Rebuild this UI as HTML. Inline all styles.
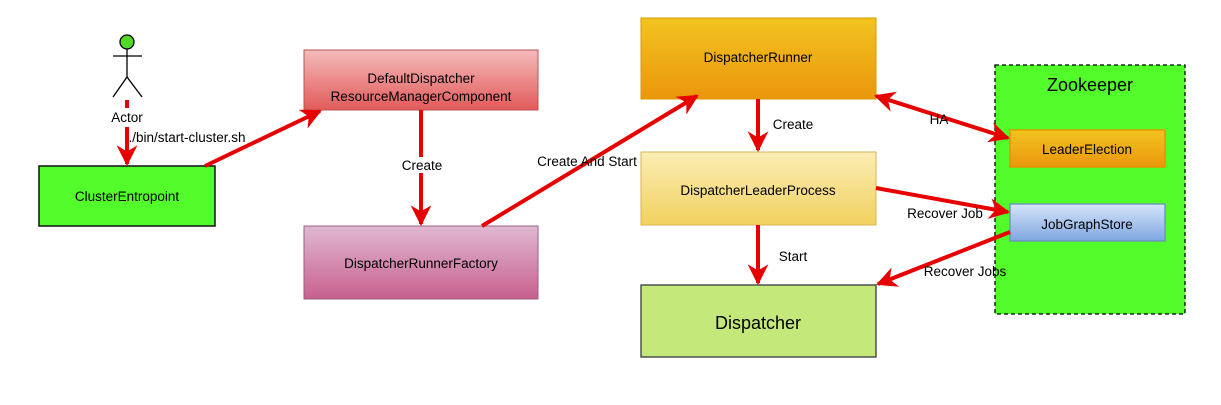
<!DOCTYPE html>
<html><head><style>
body{margin:0;background:#fff;width:1221px;height:400px;overflow:hidden;font-family:"Liberation Sans",sans-serif}
</style></head><body>
<svg width="1221" height="400" xmlns="http://www.w3.org/2000/svg" font-family="Liberation Sans, sans-serif">
<defs>
<linearGradient id="gr" x1="0" y1="0" x2="0" y2="1"><stop offset="0" stop-color="#f4bbbb"/><stop offset="1" stop-color="#e25a5a"/></linearGradient>
<linearGradient id="gp" x1="0" y1="0" x2="0" y2="1"><stop offset="0" stop-color="#e0b8d2"/><stop offset="1" stop-color="#c8608e"/></linearGradient>
<linearGradient id="go" x1="0" y1="0" x2="0" y2="1"><stop offset="0" stop-color="#f2c420"/><stop offset="1" stop-color="#eb960c"/></linearGradient>
<linearGradient id="gy" x1="0" y1="0" x2="0" y2="1"><stop offset="0" stop-color="#fbedb5"/><stop offset="1" stop-color="#f2d160"/></linearGradient>
<linearGradient id="gb" x1="0" y1="0" x2="0" y2="1"><stop offset="0" stop-color="#d6e5fb"/><stop offset="1" stop-color="#7ea6e0"/></linearGradient>
<marker id="a" viewBox="0 0 10 10" refX="9" refY="5" markerWidth="5.2" markerHeight="5.2" orient="auto-start-reverse" markerUnits="strokeWidth"><path d="M0,0 L10,5 L0,10 L3,5 z" fill="#e60000"/></marker>
</defs>
<rect x="995" y="65" width="190" height="249" fill="#52fc2a" stroke="#000" stroke-width="1.3" stroke-dasharray="4,3"/>
<text x="1090" y="91" font-size="18" text-anchor="middle">Zookeeper</text>
<rect x="39" y="166" width="176" height="60" fill="#52fc2a" stroke="#111" stroke-width="1.5"/>
<text x="127" y="201" font-size="13.5" text-anchor="middle">ClusterEntropoint</text>
<rect x="304" y="50" width="234" height="60" fill="url(#gr)" stroke="#b85450"/>
<text x="421" y="83" font-size="13.5" text-anchor="middle">DefaultDispatcher</text>
<text x="421" y="101" font-size="13.5" text-anchor="middle">ResourceManagerComponent</text>
<rect x="304" y="226" width="234" height="73" fill="url(#gp)" stroke="#996185"/>
<text x="421" y="268" font-size="13.5" text-anchor="middle">DispatcherRunnerFactory</text>
<rect x="641" y="18" width="235" height="81" fill="url(#go)" stroke="#d79b00"/>
<text x="758" y="62" font-size="13.5" text-anchor="middle">DispatcherRunner</text>
<rect x="641" y="152" width="235" height="73" fill="url(#gy)" stroke="#d6b656"/>
<text x="758" y="195" font-size="13.5" text-anchor="middle">DispatcherLeaderProcess</text>
<rect x="641" y="285" width="235" height="72" fill="#c5e87a" stroke="#36393d" stroke-width="1.3"/>
<text x="758" y="329" font-size="18" text-anchor="middle">Dispatcher</text>
<rect x="1010" y="130" width="155" height="37" fill="url(#go)" stroke="#f08a00" stroke-width="1.3"/>
<text x="1087" y="154" font-size="13.5" text-anchor="middle">LeaderElection</text>
<rect x="1010" y="204" width="155" height="37" fill="url(#gb)" stroke="#6c8ebf" stroke-width="1.3"/>
<text x="1087" y="229" font-size="13.5" text-anchor="middle">JobGraphStore</text>
<g stroke="#000" stroke-width="1.3" fill="none">
<circle cx="127" cy="42" r="7" fill="#52d82a"/>
<line x1="127" y1="49" x2="127" y2="77"/><line x1="113" y1="56" x2="142" y2="56"/>
<line x1="127" y1="77" x2="113" y2="97"/><line x1="127" y1="77" x2="142" y2="97"/>
</g>
<text x="127" y="122" font-size="13.5" text-anchor="middle">Actor</text>
<g stroke="#e60000" stroke-width="4" fill="none">
<line x1="127" y1="100" x2="127" y2="108" />
<line x1="127" y1="127" x2="127" y2="164" marker-end="url(#a)"/>
<line x1="205" y1="166" x2="320" y2="111" marker-end="url(#a)"/>
<line x1="421" y1="110" x2="421" y2="224" marker-end="url(#a)"/>
<line x1="482" y1="226" x2="697" y2="96" marker-end="url(#a)"/>
<line x1="758" y1="99" x2="758" y2="150" marker-end="url(#a)"/>
<line x1="758" y1="225" x2="758" y2="283" marker-end="url(#a)"/>
<line x1="876" y1="96" x2="1008" y2="138" marker-start="url(#a)" marker-end="url(#a)"/>
<line x1="876" y1="188" x2="1008" y2="212" marker-end="url(#a)"/>
<line x1="1010" y1="232" x2="878" y2="284" marker-end="url(#a)"/>
</g>
<g font-size="13.5" text-anchor="middle">
<rect x="133" y="128" width="110" height="16" fill="#fff"/>
<text x="187" y="142">./bin/start-cluster.sh</text>
<rect x="400" y="157" width="44" height="16" fill="#fff"/>
<text x="422" y="170">Create</text>
<text x="587" y="166">Create And Start</text>
<text x="793" y="129">Create</text>
<text x="793" y="261">Start</text>
<text x="939" y="124">HA</text>
<text x="945" y="218">Recover Job</text>
<text x="965" y="276">Recover Jobs</text>
</g>
</svg>
</body></html>
